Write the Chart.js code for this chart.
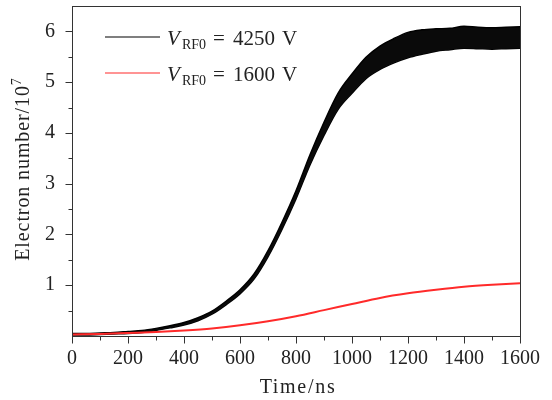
<!DOCTYPE html>
<html><head><meta charset="utf-8">
<script src="https://cdn.jsdelivr.net/npm/chart.js@4/dist/chart.umd.min.js"></script>
<style>html,body{margin:0;padding:0;background:#fff}#wrap{width:552px;height:400px}</style>
</head><body><div id="wrap"><canvas id="c" width="552" height="400"></canvas></div>
<script>
// ---- data ----
const timeNs = [0,50,100,150,200,250,300,350,400,450,500,550,600,650,700,750,800,850,900,950,1000,1050,1100,1150,1200,1250,1300,1350,1400,1450,1500,1550,1600];
// V_RF0 = 4250 V: the curve oscillates fast; upper and lower envelope of the oscillation
const high4250Upper = [0.05,0.05,0.06,0.07,0.09,0.11,0.15,0.20,0.265,0.36,0.49,0.685,0.91,1.22,1.68,2.24,2.86,3.57,4.21,4.78,5.16,5.49,5.71,5.86,5.98,6.03,6.05,6.06,6.10,6.08,6.07,6.08,6.09];
const high4250Lower = [0.02,0.02,0.03,0.04,0.05,0.07,0.11,0.16,0.215,0.30,0.43,0.615,0.83,1.12,1.56,2.10,2.70,3.37,3.95,4.46,4.78,5.07,5.25,5.38,5.48,5.55,5.61,5.64,5.67,5.66,5.65,5.66,5.67];
const redTimeNs = [0,100,200,300,400,500,600,700,800,900,1000,1100,1200,1300,1400,1500,1600];
const low1600 = [0.03,0.04,0.06,0.08,0.11,0.15,0.21,0.29,0.39,0.51,0.63,0.75,0.84,0.91,0.97,1.01,1.04];
const xMajorTicks = [0,200,400,600,800,1000,1200,1400,1600];
const xMinorTicks = [100,300,500,700,900,1100,1300,1500];
const yMajorTicks = [1,2,3,4,5,6];
const yMinorTicks = [0.5,1.5,2.5,3.5,4.5,5.5];
const legendValues = ['4250','1600'];
const legendColors = ['#000000','#ff2a2a'];
const xTitle = 'Time/ns';
const yTitle = 'Electron number/10';
const yTitleSup = '7';

const FONT = "'Liberation Serif', 'Times New Roman', serif";
const TXT = '#222';

const pts = (xs, ys) => xs.map((x, i) => ({x: x, y: ys[i]}));

const decor = {
  id: 'decor',
  afterDraw(chart) {
    const ctx = chart.ctx, a = chart.chartArea;
    const xs = chart.scales.x, ys = chart.scales.y;
    ctx.save();
    ctx.strokeStyle = '#333'; ctx.lineWidth = 1;
    ctx.strokeRect(Math.round(a.left) + 0.5, Math.round(a.top) + 0.5, Math.round(a.right - a.left), Math.round(a.bottom - a.top));
    const bottom = Math.round(a.bottom) + 0.5, left = Math.round(a.left) + 0.5;
    ctx.beginPath();
    xMajorTicks.forEach(v => { const p = Math.round(xs.getPixelForValue(v)) + 0.5; ctx.moveTo(p, bottom); ctx.lineTo(p, bottom + 7); });
    xMinorTicks.forEach(v => { const p = Math.round(xs.getPixelForValue(v)) + 0.5; ctx.moveTo(p, bottom); ctx.lineTo(p, bottom + 4); });
    yMajorTicks.forEach(v => { const p = Math.round(ys.getPixelForValue(v)) + 0.5; ctx.moveTo(left, p); ctx.lineTo(left - 7, p); });
    yMinorTicks.forEach(v => { const p = Math.round(ys.getPixelForValue(v)) + 0.5; ctx.moveTo(left, p); ctx.lineTo(left - 4, p); });
    ctx.stroke();

    // legend
    legendValues.forEach((val, i) => {
      const ly = 37 + i * 36;
      ctx.strokeStyle = legendColors[i]; ctx.lineWidth = 1.2;
      ctx.beginPath(); ctx.moveTo(105, ly); ctx.lineTo(160, ly); ctx.stroke();
      ctx.fillStyle = TXT; ctx.textBaseline = 'alphabetic'; ctx.textAlign = 'left';
      const base = ly + 8;
      ctx.font = 'italic 21px ' + FONT; ctx.fillText('V', 167, base);
      ctx.font = '14px ' + FONT; ctx.fillText('RF0', 182, base + 4);
      ctx.font = '21px ' + FONT; ctx.fillText('=', 213, base);
      ctx.fillText(val, 233, base);
      ctx.fillText('V', 282, base);
    });

    // axis titles
    ctx.fillStyle = TXT;
    ctx.font = '20px ' + FONT; ctx.textAlign = 'left'; ctx.textBaseline = 'alphabetic';
    ctx.letterSpacing = '1.7px';
    const wx = ctx.measureText(xTitle).width;
    ctx.fillText(xTitle, 298 - wx / 2, 393);
    ctx.save();
    ctx.translate(29, (a.top + a.bottom) / 2 - 2);
    ctx.rotate(-Math.PI / 2);
    ctx.letterSpacing = '0.9px';
    ctx.font = '20px ' + FONT; const w1 = ctx.measureText(yTitle).width;
    ctx.font = '14px ' + FONT; const w2 = ctx.measureText(yTitleSup).width;
    const start = -(w1 + w2) / 2;
    ctx.font = '20px ' + FONT; ctx.fillText(yTitle, start, 0);
    ctx.font = '14px ' + FONT; ctx.fillText(yTitleSup, start + w1, -8);
    ctx.restore();
    ctx.restore();
  }
};

new Chart(document.getElementById('c'), {
  type: 'line',
  data: {
    datasets: [
      { label: 'V_RF0 = 1600 V', data: pts(redTimeNs, low1600), borderColor: '#ff2a2a', borderWidth: 2, pointRadius: 0, fill: false, cubicInterpolationMode: 'monotone' },
      { label: 'V_RF0 = 4250 V upper', data: pts(timeNs, high4250Upper), borderColor: '#000', backgroundColor: '#0a0a0a', borderWidth: 1.5, pointRadius: 0, fill: '+1', cubicInterpolationMode: 'monotone' },
      { label: 'V_RF0 = 4250 V lower', data: pts(timeNs, high4250Lower), borderColor: '#000', borderWidth: 1.5, pointRadius: 0, fill: false, cubicInterpolationMode: 'monotone' }
    ]
  },
  options: {
    responsive: false, animation: false, devicePixelRatio: 1,
    layout: { padding: { left: 0, right: 32, top: 6, bottom: 0 } },
    plugins: { legend: { display: false }, tooltip: { enabled: false }, filler: { propagate: false } },
    scales: {
      x: {
        type: 'linear', min: 0, max: 1600,
        afterFit: s => { s.height = 64; s.paddingLeft = 0; s.paddingRight = 0; },
        ticks: { stepSize: 200, font: { family: FONT, size: 20 }, color: TXT, maxRotation: 0, autoSkip: false, padding: 11, callback: v => String(v) },
        grid: { display: false, drawTicks: false }, border: { display: false }
      },
      y: {
        type: 'linear', min: 0, max: 6.5,
        afterFit: s => { s.width = 72; s.paddingTop = 0; s.paddingBottom = 0; },
        ticks: { stepSize: 1, font: { family: FONT, size: 20 }, color: TXT, autoSkip: false, padding: 17,
                 callback: v => (yMajorTicks.includes(v) ? String(v) : '') },
        grid: { display: false, drawTicks: false }, border: { display: false }
      }
    }
  },
  plugins: [decor]
});
</script>
</body></html>
